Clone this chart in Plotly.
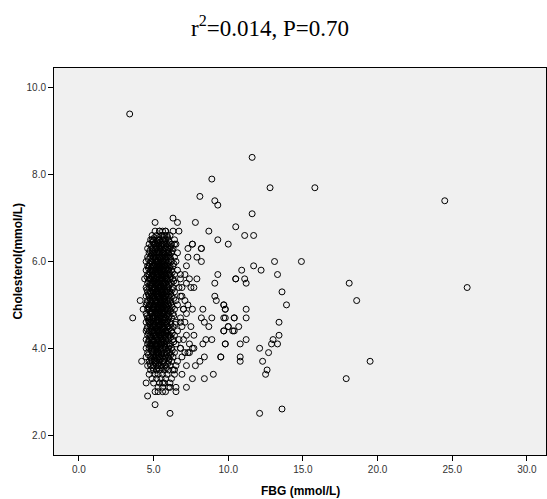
import plotly.graph_objects as go

# Cholesterol levels (mmol/L) of the dense central band, one row per level,
# with the fasting blood glucose values (mmol/L) observed at that level.
core_chol = [6.7, 6.6, 6.5, 6.4, 6.3, 6.2, 6.1, 6.0, 5.9, 5.8, 5.7, 5.6, 5.5, 5.4,
             5.3, 5.2, 5.1, 5.0, 4.9, 4.8, 4.7, 4.6, 4.5, 4.4, 4.3, 4.2, 4.1, 4.0,
             3.9, 3.8, 3.7, 3.6, 3.5, 3.4, 3.3, 3.2, 3.1, 3.0]
core_fbg = [
    [5.1, 5.4, 5.6, 5.8, 6.3],
    [4.9, 5.2, 5.5, 5.7, 5.9, 6.1],
    [4.8, 5.0, 5.3, 5.4, 5.6, 5.8, 6.0, 6.4],
    [4.7, 5.0, 5.1, 5.3, 5.5, 5.6, 5.7, 5.9, 6.2, 6.5],
    [4.6, 4.9, 5.1, 5.2, 5.4, 5.5, 5.7, 5.8, 6.0, 6.1, 6.3],
    [4.7, 4.9, 5.0, 5.2, 5.3, 5.4, 5.6, 5.7, 5.9, 6.0, 6.2, 6.6],
    [4.6, 4.8, 5.0, 5.1, 5.3, 5.4, 5.5, 5.6, 5.8, 5.9, 6.1, 6.4],
    [4.5, 4.8, 4.9, 5.1, 5.2, 5.3, 5.5, 5.6, 5.7, 5.8, 6.0, 6.2, 6.5],
    [4.6, 4.7, 4.9, 5.0, 5.2, 5.3, 5.4, 5.5, 5.7, 5.8, 5.9, 6.1, 6.3],
    [4.5, 4.8, 4.9, 5.0, 5.1, 5.3, 5.4, 5.6, 5.7, 5.9, 6.0, 6.2, 6.6],
    [4.6, 4.7, 4.9, 5.0, 5.2, 5.3, 5.5, 5.6, 5.7, 5.8, 6.0, 6.1, 6.4],
    [4.4, 4.7, 4.8, 5.0, 5.1, 5.2, 5.4, 5.5, 5.6, 5.8, 5.9, 6.1, 6.3, 6.8],
    [4.6, 4.8, 4.9, 5.1, 5.2, 5.3, 5.4, 5.6, 5.7, 5.8, 6.0, 6.2, 6.5],
    [4.5, 4.7, 4.9, 5.0, 5.1, 5.3, 5.4, 5.5, 5.7, 5.9, 6.0, 6.3, 6.7],
    [4.6, 4.8, 5.0, 5.1, 5.2, 5.3, 5.5, 5.6, 5.8, 5.9, 6.1, 6.4],
    [4.5, 4.7, 4.9, 5.0, 5.2, 5.3, 5.4, 5.6, 5.7, 5.8, 6.0, 6.2, 6.9],
    [4.6, 4.8, 4.9, 5.1, 5.2, 5.4, 5.5, 5.6, 5.7, 5.9, 6.1, 6.5],
    [4.5, 4.7, 4.8, 5.0, 5.1, 5.3, 5.4, 5.5, 5.7, 5.8, 6.0, 6.2, 6.6],
    [4.6, 4.7, 4.9, 5.0, 5.2, 5.3, 5.5, 5.6, 5.8, 5.9, 6.1, 6.4, 7.0],
    [4.5, 4.8, 4.9, 5.1, 5.2, 5.3, 5.4, 5.6, 5.7, 5.9, 6.0, 6.3],
    [4.6, 4.7, 4.9, 5.0, 5.1, 5.3, 5.4, 5.5, 5.7, 5.8, 6.0, 6.2, 6.8],
    [4.5, 4.7, 4.8, 5.0, 5.2, 5.3, 5.5, 5.6, 5.8, 5.9, 6.1, 6.5],
    [4.6, 4.8, 4.9, 5.0, 5.1, 5.3, 5.4, 5.6, 5.7, 5.9, 6.0, 6.3, 6.9],
    [4.5, 4.7, 4.9, 5.0, 5.2, 5.3, 5.4, 5.6, 5.8, 5.9, 6.2, 6.6],
    [4.6, 4.8, 5.0, 5.1, 5.2, 5.4, 5.5, 5.7, 5.8, 6.0, 6.1, 6.4],
    [4.5, 4.7, 4.9, 5.0, 5.2, 5.3, 5.5, 5.6, 5.8, 6.0, 6.3, 6.7],
    [4.6, 4.8, 4.9, 5.1, 5.2, 5.4, 5.5, 5.7, 5.9, 6.1, 6.5],
    [4.5, 4.7, 4.9, 5.0, 5.2, 5.3, 5.5, 5.6, 5.8, 6.0, 6.2, 6.8],
    [4.6, 4.9, 5.0, 5.2, 5.3, 5.5, 5.7, 5.9, 6.1, 6.4],
    [4.5, 4.8, 5.0, 5.1, 5.3, 5.4, 5.6, 5.8, 6.0, 6.3, 6.9],
    [4.7, 4.9, 5.1, 5.2, 5.4, 5.6, 5.7, 6.0, 6.2, 6.6],
    [4.6, 4.8, 5.0, 5.3, 5.5, 5.8, 6.1, 6.5],
    [4.8, 5.0, 5.2, 5.4, 5.7, 6.0, 6.3],
    [4.7, 5.1, 5.3, 5.6, 5.9, 6.4],
    [4.9, 5.2, 5.5, 5.8, 6.2],
    [5.0, 5.4, 5.7, 6.1],
    [5.3, 5.6, 6.0],
    [5.1, 5.8],
]

# Additional subjects inside the band, measured at intermediate glucose values
dense_chol = [6.55, 6.45, 6.35, 6.25, 6.15, 6.05, 5.95, 5.85, 5.75, 5.65, 5.55,
              5.45, 5.35, 5.25, 5.15, 5.05, 4.95, 4.85, 4.75, 4.65, 4.55, 4.45,
              4.35, 4.25, 4.15, 4.05, 3.95, 3.85, 3.75, 3.65, 3.55]
dense_fbg = [
    [5.05, 5.35, 5.65, 5.95],
    [4.95, 5.25, 5.45, 5.75, 6.05],
    [4.85, 5.15, 5.35, 5.55, 5.85, 6.15],
    [4.75, 4.95, 5.25, 5.45, 5.65, 5.95, 6.25],
    [4.85, 5.05, 5.35, 5.55, 5.75, 6.05],
    [4.65, 4.95, 5.15, 5.45, 5.65, 5.85, 6.15],
    [4.75, 5.05, 5.25, 5.35, 5.55, 5.75, 5.95, 6.35],
    [4.65, 4.85, 5.15, 5.35, 5.45, 5.65, 5.85, 6.05],
    [4.75, 4.95, 5.15, 5.25, 5.45, 5.55, 5.75, 6.05, 6.25],
    [4.55, 4.85, 5.05, 5.25, 5.35, 5.55, 5.65, 5.85, 6.15],
    [4.65, 4.95, 5.05, 5.25, 5.45, 5.55, 5.75, 5.95, 6.35],
    [4.75, 4.85, 5.15, 5.35, 5.45, 5.65, 5.85, 6.05],
    [4.55, 4.95, 5.05, 5.25, 5.45, 5.55, 5.75, 5.95, 6.25],
    [4.65, 4.85, 5.15, 5.25, 5.35, 5.55, 5.65, 5.85, 6.15],
    [4.75, 4.95, 5.05, 5.35, 5.45, 5.65, 5.75, 6.05, 6.35],
    [4.55, 4.85, 5.15, 5.25, 5.45, 5.55, 5.75, 5.95, 6.15],
    [4.65, 4.95, 5.05, 5.25, 5.35, 5.55, 5.65, 5.85, 6.25],
    [4.75, 4.85, 5.15, 5.35, 5.45, 5.65, 5.75, 5.95, 6.15],
    [4.55, 4.95, 5.05, 5.25, 5.45, 5.55, 5.85, 6.05, 6.35],
    [4.65, 4.85, 5.15, 5.25, 5.35, 5.65, 5.75, 5.95],
    [4.75, 4.95, 5.05, 5.35, 5.45, 5.55, 5.85, 6.15, 6.45],
    [4.55, 4.85, 5.15, 5.25, 5.45, 5.65, 5.75, 6.05],
    [4.65, 4.95, 5.05, 5.35, 5.55, 5.65, 5.85, 6.25],
    [4.75, 4.85, 5.15, 5.25, 5.45, 5.75, 5.95, 6.15],
    [4.65, 4.95, 5.05, 5.35, 5.55, 5.65, 5.85, 6.35],
    [4.75, 4.85, 5.15, 5.25, 5.45, 5.75, 6.05],
    [4.85, 5.05, 5.25, 5.45, 5.65, 5.95, 6.25],
    [4.65, 4.95, 5.15, 5.35, 5.55, 5.85, 6.15],
    [4.85, 5.05, 5.25, 5.45, 5.75, 6.05],
    [4.75, 5.15, 5.35, 5.65, 5.95],
    [4.95, 5.25, 5.55, 5.85],
]

# Scattered subjects around and beyond the central band
outer_fbg = [3.4, 8.9, 8.1, 9.1, 9.3, 6.3, 5.1, 6.6, 7.8, 6.7, 8.7, 10.5, 9.3, 10.0,
             5.4, 5.8, 4.9, 6.4, 7.6, 8.2,
             11.6, 12.8, 15.8, 24.5, 11.6, 11.1, 11.7, 13.1, 14.9, 11.7, 12.2, 10.9,
             13.3, 10.5, 11.1, 11.2, 18.1, 26.0, 13.6, 18.6, 13.9, 9.7, 9.8, 11.2,
             9.8, 10.4, 11.2, 13.4, 10.0, 10.7, 9.7, 10.4, 13.4, 11.2, 13.0, 9.8,
             10.8, 12.9, 13.3, 12.1, 12.7, 9.5, 10.8, 10.8, 12.3, 19.5, 12.6, 12.5,
             17.9, 12.1, 13.6,
             7.3, 7.6, 8.2, 7.9, 7.3, 7.2, 8.2, 9.3, 9.1, 10.5, 7.9, 7.7, 9.1, 9.2,
             9.7, 9.8, 10.4, 9.7, 8.9, 8.3, 8.2, 8.4, 8.7, 10.0, 9.7, 10.3, 8.5,
             8.9, 8.3, 9.8, 7.7, 7.4, 8.4, 9.5, 8.1, 7.8, 7.2, 6.4, 6.9, 7.6, 8.4,
             9.0, 7.2, 6.5, 6.5, 6.1, 5.6, 5.3, 5.6, 4.5, 4.6, 5.1, 6.1, 3.6, 4.1,
             4.3, 4.2,
             6.8, 7.1, 7.4, 7.2, 6.9, 7.5, 6.8, 7.1, 7.3, 7.6, 7.0, 7.2, 6.8, 7.1,
             7.5, 7.7, 7.2, 7.0, 7.4, 7.6, 7.1, 6.8, 7.3]
outer_chol = [9.4, 7.9, 7.5, 7.4, 7.3, 7.0, 6.9, 6.9, 6.9, 6.7, 6.7, 6.8, 6.5, 6.4,
              6.7, 6.7, 6.5, 6.4, 6.4, 6.3,
              8.4, 7.7, 7.7, 7.4, 7.1, 6.6, 6.6, 6.0, 6.0, 5.9, 5.8, 5.8,
              5.7, 5.6, 5.6, 5.5, 5.5, 5.4, 5.3, 5.1, 5.0, 5.0, 4.9, 4.9,
              4.7, 4.7, 4.7, 4.6, 4.5, 4.5, 4.4, 4.4, 4.3, 4.2, 4.2, 4.1,
              4.1, 4.1, 4.1, 4.0, 3.9, 3.8, 3.8, 3.7, 3.7, 3.7, 3.5, 3.4,
              3.3, 2.5, 2.6,
              6.3, 6.4, 6.3, 6.1, 6.1, 5.9, 6.0, 5.7, 5.5, 5.6, 5.6, 5.4, 5.2, 5.1,
              5.0, 4.9, 4.7, 4.7, 4.7, 4.9, 4.7, 4.6, 4.5, 4.5, 4.4, 4.4, 4.2,
              4.2, 4.1, 4.1, 4.0, 3.9, 3.8, 3.8, 3.7, 3.6, 3.6, 3.5, 3.4, 3.3, 3.3,
              3.4, 3.1, 3.1, 3.0, 3.1, 3.2, 3.0, 3.0, 3.2, 2.9, 2.7, 2.5, 4.7, 5.1,
              4.9, 3.7,
              5.7, 5.7, 5.6, 5.5, 5.4, 5.4, 5.2, 5.1, 5.0, 4.9, 4.9, 4.8, 4.6, 4.6,
              4.5, 4.3, 4.3, 4.2, 4.1, 4.0, 3.9, 4.0, 3.9]

fbg = ([v for row in core_fbg for v in row]
       + [v for row in dense_fbg for v in row]
       + outer_fbg)
chol = ([c for c, row in zip(core_chol, core_fbg) for _ in row]
        + [c for c, row in zip(dense_chol, dense_fbg) for _ in row]
        + outer_chol)

x_ticks = [0, 5, 10, 15, 20, 25, 30]
y_ticks = [2, 4, 6, 8, 10]

fig = go.Figure(
    go.Scatter(
        x=fbg, y=chol, mode="markers",
        marker=dict(symbol="circle-open", size=6, color="black",
                    line=dict(width=1, color="black")),
        hoverinfo="x+y",
    )
)

axis_common = dict(
    showgrid=False, zeroline=False,
    showline=True, linecolor="black", linewidth=1, mirror=True,
    ticks="outside", ticklen=5, tickwidth=1, tickcolor="black",
    tickformat=".1f",
    tickfont=dict(family="Arial, Liberation Sans, sans-serif", size=10, color="#333333"),
)

fig.update_xaxes(range=[-1.67, 31.28], tickvals=x_ticks, **axis_common)
fig.update_yaxes(range=[1.54, 10.46], tickvals=y_ticks, **axis_common)

fig.update_layout(
    width=547, height=499,
    margin=dict(l=54, r=1, t=68, b=44),
    paper_bgcolor="white",
    plot_bgcolor="#f0f0f0",
    showlegend=False,
    annotations=[
        dict(text="r<sup>2</sup>=0.014, P=0.70", xref="paper", yref="paper",
             x=0.439, y=1.108, xanchor="center", yanchor="middle", showarrow=False,
             font=dict(family="Times New Roman, Liberation Serif, serif", size=23,
                       color="black")),
        dict(text="<b>FBG (mmol/L)</b>", xref="paper", yref="paper",
             x=0.5, y=-0.093, xanchor="center", yanchor="middle", showarrow=False,
             font=dict(family="Arial, Liberation Sans, sans-serif", size=12,
                       color="black")),
        dict(text="<b>Cholesterol(mmol/L)</b>", xref="paper", yref="paper",
             x=-0.075, y=0.5, xanchor="center", yanchor="middle", showarrow=False,
             textangle=-90,
             font=dict(family="Arial, Liberation Sans, sans-serif", size=12,
                       color="black")),
    ],
)

fig.write_html("out.html")
